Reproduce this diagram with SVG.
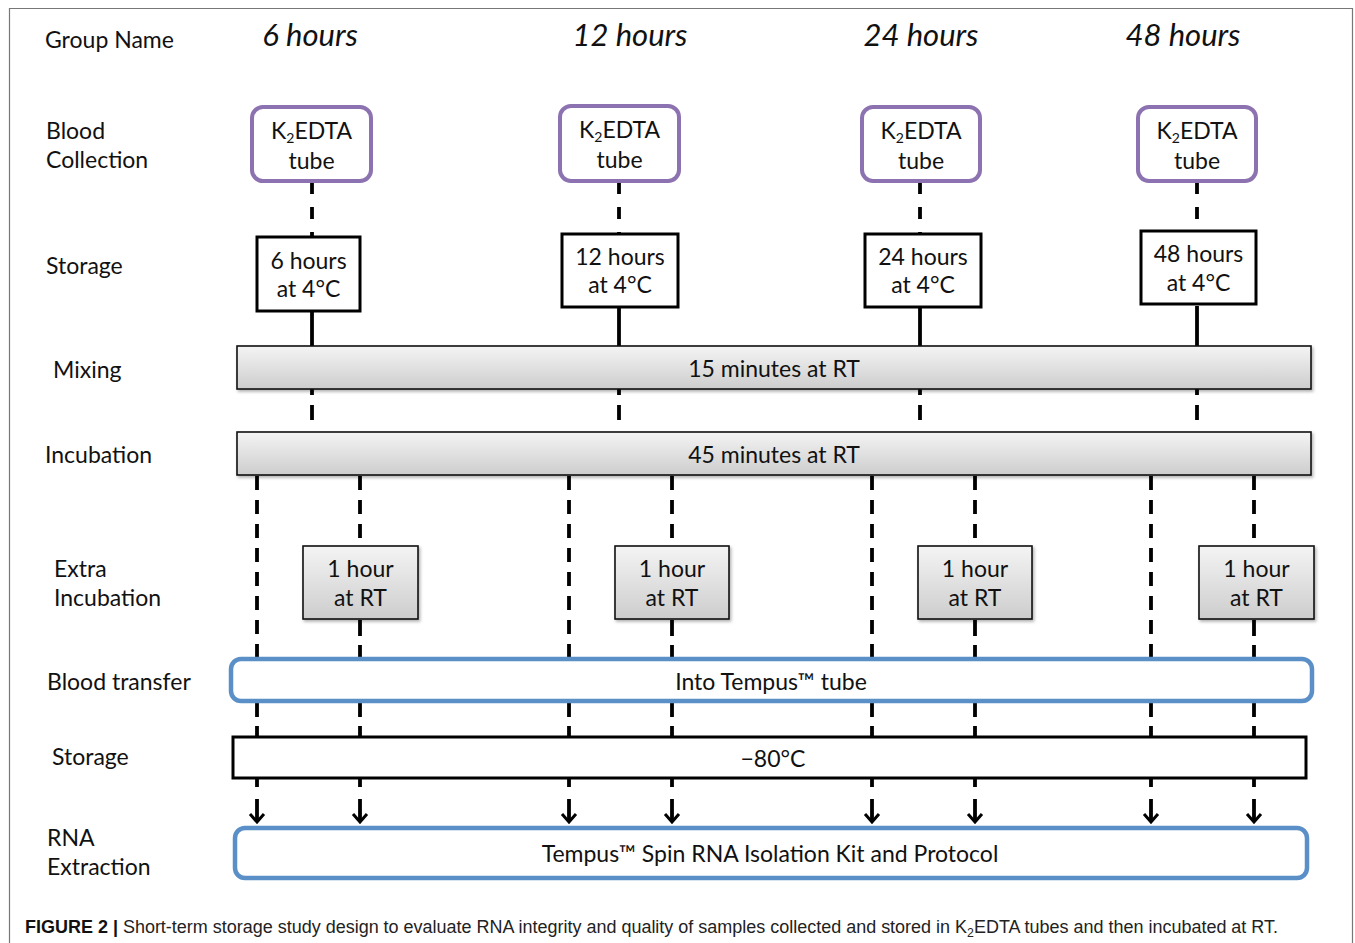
<svg xmlns="http://www.w3.org/2000/svg" width="1355" height="943" viewBox="0 0 1355 943">
<defs>
<style>
.t{font-family:Lato,"Open Sans","Liberation Sans",sans-serif;font-size:23px;fill:#111}
.c{text-anchor:middle}
.h{font-family:Lato,"Open Sans","Liberation Sans",sans-serif;font-size:31px;font-style:italic;fill:#111;text-anchor:middle}
.cap{font-family:"Liberation Sans",Arial,sans-serif;font-size:17.5px;fill:#222}
.tube{fill:#fff;stroke:#8C72B0;stroke-width:4}
.stor{fill:#fff;stroke:#000;stroke-width:3}
.gbar{fill:url(#g);stroke:#111;stroke-width:1.6;filter:url(#sh)}
.blue{fill:#fff;stroke:#5B8FC7;stroke-width:4.5}
.d{stroke:#000;stroke-width:3.8;fill:none}
.d1{stroke-dasharray:12 13}
.d2{stroke-dasharray:14 10}
.ah{stroke:#000;stroke-width:3;fill:none}
</style>
<linearGradient id="g" x1="0" y1="0" x2="0" y2="1">
<stop offset="0" stop-color="#f4f4f4"/>
<stop offset="1" stop-color="#cdcdcd"/>
</linearGradient>
<filter id="sh" x="-5%" y="-20%" width="110%" height="150%">
<feDropShadow dx="1.5" dy="2" stdDeviation="1.5" flood-color="#000" flood-opacity="0.3"/>
</filter>
</defs>
<rect width="1355" height="943" fill="#fff"/>
<path d="M9.5 943 V8.5 H1352.5 V943" fill="none" stroke="#777" stroke-width="1.2"/>

<g id="connectors">
<line class="d d1" x1="312" y1="182" x2="312" y2="237"/>
<line class="d d1" x1="619" y1="182" x2="619" y2="234"/>
<line class="d d1" x1="920" y1="182" x2="920" y2="234"/>
<line class="d d1" x1="1197" y1="182" x2="1197" y2="231"/>
<line class="d" x1="312" y1="312" x2="312" y2="346"/>
<line class="d" x1="619" y1="308" x2="619" y2="346"/>
<line class="d" x1="920" y1="308" x2="920" y2="346"/>
<line class="d" x1="1197" y1="306" x2="1197" y2="346"/>
<path class="d" d="M312 389V395M312 405V420M619 389V395M619 405V420M920 389V395M920 405V420M1197 389V395M1197 405V420"/>
<line class="d d2" x1="257" y1="476" x2="257" y2="659"/>
<line class="d d2" x1="569" y1="476" x2="569" y2="659"/>
<line class="d d2" x1="872" y1="476" x2="872" y2="659"/>
<line class="d d2" x1="1151" y1="476" x2="1151" y2="659"/>
<line class="d d2" x1="360" y1="476" x2="360" y2="546"/>
<line class="d d2" x1="672" y1="476" x2="672" y2="546"/>
<line class="d d2" x1="975" y1="476" x2="975" y2="546"/>
<line class="d d2" x1="1254" y1="476" x2="1254" y2="546"/>
<path class="d" d="M360 620V636M360 645V659M672 620V636M672 645V659M975 620V636M975 645V659M1254 620V636M1254 645V659"/>
<path class="d" d="M257 701V717M257 726V737M360 701V717M360 726V737M569 701V717M569 726V737M672 701V717M672 726V737M872 701V717M872 726V737M975 701V717M975 726V737M1151 701V717M1151 726V737M1254 701V717M1254 726V737"/>
<path class="d" d="M257 779V787M257 799V822M360 779V787M360 799V822M569 779V787M569 799V822M672 779V787M672 799V822M872 779V787M872 799V822M975 779V787M975 799V822M1151 779V787M1151 799V822M1254 779V787M1254 799V822"/>
<path class="ah" d="M250 814L257 822L264 814M353 814L360 822L367 814M562 814L569 822L576 814M665 814L672 822L679 814M865 814L872 822L879 814M968 814L975 822L982 814M1144 814L1151 822L1158 814M1247 814L1254 822L1261 814"/>
</g>

<g id="labels">
<text class="t" x="45" y="48">Group Name</text>
<text class="t" x="46" y="139">Blood</text>
<text class="t" x="46" y="168">Collection</text>
<text class="t" x="46" y="274">Storage</text>
<text class="t" x="53" y="378">Mixing</text>
<text class="t" x="45" y="463">Incubation</text>
<text class="t" x="54" y="577">Extra</text>
<text class="t" x="54" y="606">Incubation</text>
<text class="t" x="47" y="690">Blood transfer</text>
<text class="t" x="52" y="765">Storage</text>
<text class="t" x="47" y="846">RNA</text>
<text class="t" x="47" y="875">Extraction</text>
</g>

<g id="headers">
<text class="h" x="310" y="46">6 hours</text>
<text class="h" x="630" y="46">12 hours</text>
<text class="h" x="921" y="46">24 hours</text>
<text class="h" x="1183" y="46">48 hours</text>
</g>

<g id="tube-6h">
<rect class="tube" x="252" y="107" width="119" height="74" rx="11"/>
<text class="t c" x="311.5" y="139">K<tspan font-size="14" dy="4">2</tspan><tspan dy="-4">EDTA</tspan></text>
<text class="t c" x="311.5" y="169">tube</text>
</g>
<g id="tube-12h">
<rect class="tube" x="560" y="106" width="119" height="75" rx="11"/>
<text class="t c" x="619.5" y="138">K<tspan font-size="14" dy="4">2</tspan><tspan dy="-4">EDTA</tspan></text>
<text class="t c" x="619.5" y="168">tube</text>
</g>
<g id="tube-24h">
<rect class="tube" x="862" y="107" width="118" height="74" rx="11"/>
<text class="t c" x="921" y="139">K<tspan font-size="14" dy="4">2</tspan><tspan dy="-4">EDTA</tspan></text>
<text class="t c" x="921" y="169">tube</text>
</g>
<g id="tube-48h">
<rect class="tube" x="1138" y="107" width="118" height="74" rx="11"/>
<text class="t c" x="1197" y="139">K<tspan font-size="14" dy="4">2</tspan><tspan dy="-4">EDTA</tspan></text>
<text class="t c" x="1197" y="169">tube</text>
</g>

<g id="storage-6h">
<rect class="stor" x="257" y="237" width="103" height="74"/>
<text class="t c" x="308.5" y="269">6 hours</text>
<text class="t c" x="308.5" y="297">at 4°C</text>
</g>
<g id="storage-12h">
<rect class="stor" x="562" y="234" width="116" height="73"/>
<text class="t c" x="620" y="265">12 hours</text>
<text class="t c" x="620" y="293">at 4°C</text>
</g>
<g id="storage-24h">
<rect class="stor" x="865" y="234" width="116" height="73"/>
<text class="t c" x="923" y="265">24 hours</text>
<text class="t c" x="923" y="293">at 4°C</text>
</g>
<g id="storage-48h">
<rect class="stor" x="1141" y="231" width="115" height="73"/>
<text class="t c" x="1198.5" y="262">48 hours</text>
<text class="t c" x="1198.5" y="291">at 4°C</text>
</g>

<g id="mixing">
<rect class="gbar" x="237" y="346" width="1074" height="43"/>
<text class="t c" x="774" y="377">15 minutes at RT</text>
</g>
<g id="incubation">
<rect class="gbar" x="237" y="432" width="1074" height="43"/>
<text class="t c" x="774" y="463">45 minutes at RT</text>
</g>

<g id="extra-6h">
<rect class="gbar" x="303" y="546" width="115" height="73"/>
<text class="t c" x="360.5" y="577">1 hour</text>
<text class="t c" x="360.5" y="606">at RT</text>
</g>
<g id="extra-12h">
<rect class="gbar" x="615" y="546" width="114" height="73"/>
<text class="t c" x="672" y="577">1 hour</text>
<text class="t c" x="672" y="606">at RT</text>
</g>
<g id="extra-24h">
<rect class="gbar" x="918" y="546" width="114" height="73"/>
<text class="t c" x="975" y="577">1 hour</text>
<text class="t c" x="975" y="606">at RT</text>
</g>
<g id="extra-48h">
<rect class="gbar" x="1199" y="546" width="115" height="73"/>
<text class="t c" x="1256.5" y="577">1 hour</text>
<text class="t c" x="1256.5" y="606">at RT</text>
</g>

<g id="blood-transfer">
<rect class="blue" x="231" y="659" width="1081" height="42" rx="10"/>
<text class="t c" x="771" y="690">Into Tempus™ tube</text>
</g>
<g id="storage-80">
<rect class="stor" x="233" y="737" width="1073" height="41"/>
<text class="t c" x="773" y="767">−80°C</text>
</g>
<g id="rna-extraction">
<rect class="blue" x="235" y="828" width="1072" height="50" rx="10"/>
<text class="t c" x="770" y="862">Tempus™ Spin RNA Isolation Kit and Protocol</text>
</g>

<g id="caption">
<text class="cap" x="25" y="933" textLength="1253" lengthAdjust="spacingAndGlyphs"><tspan font-weight="bold" fill="#111">FIGURE 2 |</tspan> Short-term storage study design to evaluate RNA integrity and quality of samples collected and stored in K<tspan font-size="12" dy="4">2</tspan><tspan dy="-4">EDTA tubes and then incubated at RT.</tspan></text>
</g>
</svg>
